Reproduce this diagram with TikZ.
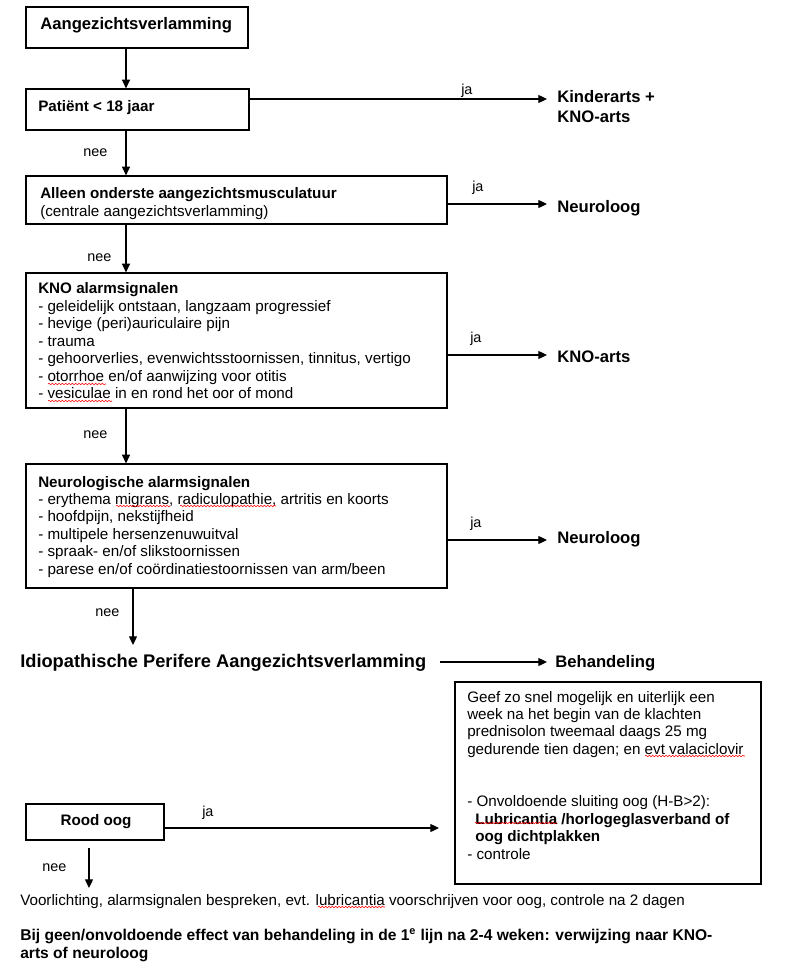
\documentclass[tikz,border=0pt]{standalone}
\usepackage{fontspec}
\setmainfont{Liberation Sans}
\usetikzlibrary{arrows.meta,fit,decorations.pathmorphing}
\newcommand{\lines}[1]{\begin{tabular}[t]{@{}l@{}}#1\end{tabular}}
\begin{document}
\begin{tikzpicture}[x=0.75pt,y=-0.75pt,
  box/.style={draw,line width=0.9pt,inner sep=0pt},
  body/.style={font=\fontsize{11.4}{13.1}\selectfont,inner sep=0pt,anchor=base west},
  lbl/.style={font=\fontsize{10.8}{13}\selectfont,inner sep=0pt,anchor=base west},
  dest/.style={font=\fontsize{12.5}{15}\selectfont\bfseries,inner sep=0pt,anchor=base west},
  arr/.style={line width=0.9pt,-{Triangle[length=6.5pt,width=6pt]}},
  squig/.style={draw=red,line width=0.4pt,decorate,decoration={snake,amplitude=0.6pt,segment length=2.5pt}}]
\useasboundingbox (0,0) rectangle (788,969);
% boxes
\node[box,fit={(26,7) (248,48)}] (b1) {};
\node[box,fit={(26,89) (249,130)}] (b2) {};
\node[box,fit={(26,176) (447,224)}] (b3) {};
\node[box,fit={(26,273) (447,408)}] (b4) {};
\node[box,fit={(26,464) (447,588)}] (b5) {};
\node[box,fit={(455,682) (761,884)}] (b6) {};
\node[box,fit={(26,804) (164,840)}] (b7) {};
% texts in boxes
\node[inner sep=0pt,anchor=base west,font=\fontsize{12.5}{14}\selectfont\bfseries] (t1) at (40,30) {Aangezichtsverlamming};
\node[body,font=\fontsize{11.4}{13}\selectfont\bfseries] (t2) at (38,112) {Patiënt < 18 jaar};
\node[body] (t3) at (40,199) {\lines{\textbf{Alleen onderste aangezichtsmusculatuur}\\(centrale aangezichtsverlamming)}};
\node[body] (t4) at (38,294) {\lines{\textbf{KNO alarmsignalen}\\- geleidelijk ontstaan, langzaam progressief\\- hevige (peri)auriculaire pijn\\- trauma\\- gehoorverlies, evenwichtsstoornissen, tinnitus, vertigo\\- otorrhoe en/of aanwijzing voor otitis\\- vesiculae in en rond het oor of mond}};
\node[body] (t5) at (38,487) {\lines{\textbf{Neurologische alarmsignalen}\\- erythema migrans, radiculopathie, artritis en koorts\\- hoofdpijn, nekstijfheid\\- multipele hersenzenuwuitval\\- spraak- en/of slikstoornissen\\- parese en/of coördinatiestoornissen van arm/been}};
\node[body] (t6) at (467,702) {\lines{Geef zo snel mogelijk en uiterlijk een\\week na het begin van de klachten\\prednisolon tweemaal daags 25 mg\\gedurende tien dagen; en evt valaciclovir\\[26.2pt]- Onvoldoende sluiting oog (H-B>2):\\\hspace*{6pt}\textbf{Lubricantia /horlogeglasverband of}\\\hspace*{6pt}\textbf{oog dichtplakken}\\- controle}};
\node[inner sep=0pt,anchor=base,font=\fontsize{11.4}{13}\selectfont\bfseries] (t7) at (96,825) {Rood oog};
% destinations
\node[dest] (d1) at (557,103) {\lines{Kinderarts +\\KNO-arts}};
\node[dest] (d2) at (557,213) {Neuroloog};
\node[dest] (d3) at (557,362) {KNO-arts};
\node[dest] (d4) at (557,543) {Neuroloog};
\node[inner sep=0pt,anchor=base west,font=\fontsize{13.7}{15}\selectfont\bfseries] (idio) at (20,667) {Idiopathische Perifere Aangezichtsverlamming};
\node[dest] (beh) at (555,667) {Behandeling};
\node[body] (vl) at (20,905) {Voorlichting, alarmsignalen bespreken, evt. lubricantia voorschrijven voor oog, controle na 2 dagen};
\node[body,font=\fontsize{11.7}{13.5}\selectfont\bfseries] (bij) at (20,940) {\lines{Bij geen/onvoldoende effect van behandeling in de 1\textsuperscript{e} lijn na 2-4 weken: verwijzing naar KNO-\\arts of neuroloog}};
% coordinates for arrow ends
\coordinate (e1) at (547,99);
\coordinate (e2) at (547,204);
\coordinate (e3) at (547,355);
\coordinate (e4) at (547,540);
\coordinate (s6) at (440,662);
\coordinate (e6) at (547,662);
\coordinate (v) at (126,0);
\coordinate (i0) at (133,588);
\coordinate (i1) at (133,645);
\coordinate (e7) at (439,828);
\coordinate (r0) at (89,848);
\coordinate (r1) at (89,888);
% vertical arrows
\draw[arr] (v |- b1.south) -- (v |- b2.north);
\draw[arr] (v |- b2.south) -- (v |- b3.north);
\draw[arr] (v |- b3.south) -- (v |- b4.north);
\draw[arr] (v |- b4.south) -- (v |- b5.north);
\draw[arr] (i0) -- (i1);
\draw[arr] (r0) -- (r1);
% horizontal arrows
\draw[arr] (b2.east |- e1) -- (e1);
\draw[arr] (b3.east |- e2) -- (e2);
\draw[arr] (b4.east |- e3) -- (e3);
\draw[arr] (b5.east |- e4) -- (e4);
\draw[arr] (s6) -- (e6);
\draw[arr] (b7.east |- e7) -- (e7);
% labels
\node[lbl] at (461,95) {ja};
\node[lbl] at (472,192) {ja};
\node[lbl] at (470,343) {ja};
\node[lbl] at (470,527) {ja};
\node[lbl] at (202,816) {ja};
\node[lbl] at (83,157) {nee};
\node[lbl] at (87,262) {nee};
\node[lbl] at (83,438) {nee};
\node[lbl] at (95,616) {nee};
\node[lbl] at (42,871) {nee};
% spell-check squiggles
\draw[squig] (48,384) -- (106,384);
\draw[squig] (48,401) -- (112,401);
\draw[squig] (116,506) -- (170,506);
\draw[squig] (180,506) -- (276,506);
\draw[squig] (645,756) -- (745,756);
\draw[squig] (475,823) -- (557,823);
\draw[squig] (318,907) -- (385,907);
\end{tikzpicture}
\end{document}
